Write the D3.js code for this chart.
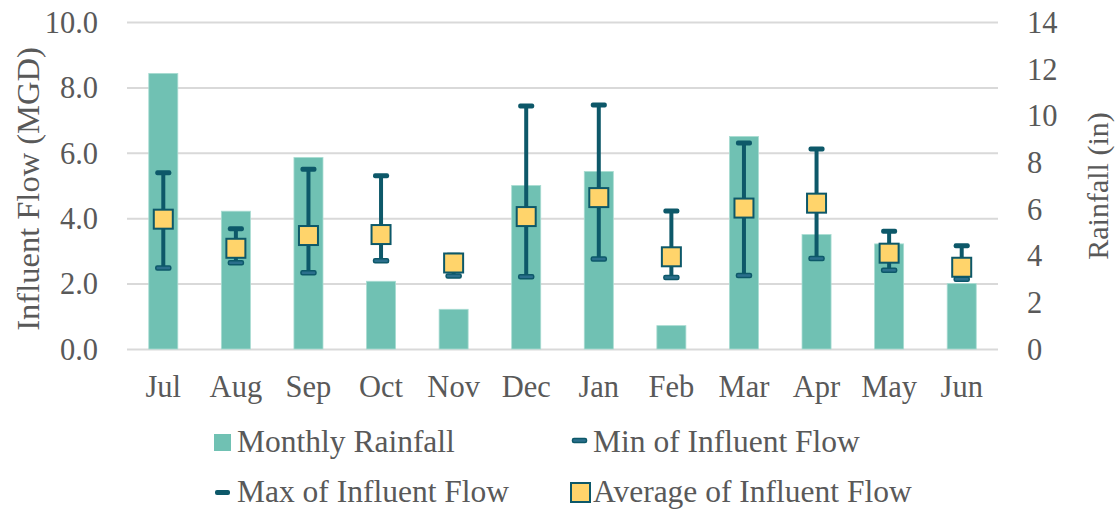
<!DOCTYPE html>
<html>
<head>
<meta charset="utf-8">
<script src="https://cdn.jsdelivr.net/npm/d3@7"></script>
<style>
  body { margin: 0; background: #fff; }
  svg text { fill: #595959; }
</style>
</head>
<body>
<div id="chart"></div>
<script>
const months = ["Jul", "Aug", "Sep", "Oct", "Nov", "Dec", "Jan", "Feb", "Mar", "Apr", "May", "Jun"];
const rainfall = [11.8, 5.9, 8.2, 2.9, 1.7, 7.0, 7.6, 1.0, 9.1, 4.9, 4.5, 2.8];
const flowMax = [5.39, 3.68, 5.5, 5.3, 2.87, 7.43, 7.46, 4.22, 6.3, 6.12, 3.6, 3.16];
const flowAvg = [3.97, 3.08, 3.47, 3.5, 2.63, 4.05, 4.63, 2.82, 4.31, 4.46, 2.93, 2.5];
const flowMin = [2.48, 2.64, 2.33, 2.7, 2.23, 2.21, 2.75, 2.19, 2.25, 2.77, 2.41, 2.13];
const flowTicks = [0, 2, 4, 6, 8, 10];
const rainTicks = [0, 2, 4, 6, 8, 10, 12, 14];

const W = 1117, H = 510;
const plotL = 127, plotR = 998, plotT = 22, plotB = 349;
const FS = 30.5;
const FONT = "'Liberation Serif', 'Times New Roman', Times, 'DejaVu Serif', serif";
const barColor = "#70c1b3", darkColor = "#0d5869", minFill = "#2b6f8c", avgFill = "#ffd46b";

const svg = d3.select("#chart").append("svg")
    .attr("width", W)
    .attr("height", H)
    .attr("font-family", FONT);

const x = d3.scaleBand().domain(months).range([plotL, plotR]).paddingInner(0.6).paddingOuter(0.3);
const yFlow = d3.scaleLinear().domain([0, 10]).range([plotB, plotT]);
const yRain = d3.scaleLinear().domain([0, 14]).range([plotB, plotT]);

// left axis with gridlines
const gLeft = svg.append("g")
    .attr("transform", `translate(${plotL},0)`)
    .call(d3.axisLeft(yFlow).tickValues(flowTicks).tickFormat(d3.format(".1f"))
        .tickSize(-(plotR - plotL)).tickPadding(29));
gLeft.attr("font-family", FONT);
gLeft.select(".domain").remove();
gLeft.selectAll("line").attr("stroke", "#d9d9d9").attr("stroke-width", 2);
gLeft.selectAll("text").attr("font-size", FS).attr("dy", "0.34em");

// right axis
const gRight = svg.append("g")
    .attr("transform", `translate(${plotR},0)`)
    .call(d3.axisRight(yRain).tickValues(rainTicks).tickFormat(d3.format("d"))
        .tickSize(0).tickPadding(29));
gRight.attr("font-family", FONT);
gRight.select(".domain").remove();
gRight.selectAll("text").attr("font-size", FS).attr("dy", "0.34em");

// bars
svg.append("g").selectAll("rect")
    .data(months)
    .enter().append("rect")
    .attr("x", d => x(d))
    .attr("width", x.bandwidth())
    .attr("y", (d, i) => yRain(rainfall[i]))
    .attr("height", (d, i) => plotB - yRain(rainfall[i]))
    .attr("fill", barColor)
    .attr("stroke", "#a9dcd2")
    .attr("stroke-width", 0.8);

// bottom axis (labels only)
const gBottom = svg.append("g")
    .attr("transform", `translate(0,${plotB})`)
    .call(d3.axisBottom(x).tickSize(0));
gBottom.attr("font-family", FONT);
gBottom.select(".domain").remove();
gBottom.selectAll("text").attr("font-size", FS).attr("y", 48).attr("dy", null);

// error bars + markers
const cx = d => x(d) + x.bandwidth() / 2;
const marks = svg.append("g").selectAll("g")
    .data(months)
    .enter().append("g");

marks.append("line")
    .attr("x1", cx).attr("x2", cx)
    .attr("y1", (d, i) => yFlow(flowMin[i]))
    .attr("y2", (d, i) => yFlow(flowMax[i]))
    .attr("stroke", darkColor)
    .attr("stroke-width", 4);

marks.append("rect")
    .attr("x", d => cx(d) - 8).attr("width", 16)
    .attr("y", (d, i) => yFlow(flowMax[i]) - 2.5).attr("height", 5)
    .attr("rx", 2)
    .attr("fill", darkColor);

marks.append("rect")
    .attr("x", d => cx(d) - 7.5).attr("width", 15)
    .attr("y", (d, i) => yFlow(flowMin[i]) - 2).attr("height", 4)
    .attr("rx", 1.5)
    .attr("fill", minFill)
    .attr("stroke", darkColor)
    .attr("stroke-width", 1.5);

marks.append("rect")
    .attr("x", d => cx(d) - 9.5).attr("width", 19)
    .attr("y", (d, i) => yFlow(flowAvg[i]) - 9.5).attr("height", 19)
    .attr("fill", avgFill)
    .attr("stroke", darkColor)
    .attr("stroke-width", 2);

// axis titles
svg.append("text")
    .attr("transform", `translate(39,189) rotate(-90)`)
    .attr("text-anchor", "middle")
    .attr("font-size", 32.5)
    .text("Influent Flow (MGD)");

svg.append("text")
    .attr("transform", `translate(1108,186) rotate(-90)`)
    .attr("text-anchor", "middle")
    .attr("font-size", 30)
    .text("Rainfall (in)");

// legend
const legendItems = [
    { label: "Monthly Rainfall", type: "bar", x: 214, y: 452 },
    { label: "Min of Influent Flow", type: "min", x: 570, y: 452 },
    { label: "Max of Influent Flow", type: "max", x: 214, y: 502 },
    { label: "Average of Influent Flow", type: "avg", x: 570, y: 502 }
];

const lg = svg.append("g").selectAll("g")
    .data(legendItems)
    .enter().append("g")
    .attr("transform", d => `translate(${d.x},${d.y})`);

lg.each(function(d) {
    const g = d3.select(this);
    if (d.type === "bar") {
        g.append("rect").attr("x", 0).attr("y", -18).attr("width", 17).attr("height", 17).attr("fill", barColor);
    } else if (d.type === "min") {
        g.append("rect").attr("x", 2.5).attr("y", -13.5).attr("width", 14).attr("height", 4).attr("rx", 1.5)
            .attr("fill", minFill).attr("stroke", darkColor).attr("stroke-width", 1.5);
    } else if (d.type === "max") {
        g.append("rect").attr("x", 1).attr("y", -12).attr("width", 15).attr("height", 5).attr("rx", 2)
            .attr("fill", darkColor);
    } else {
        g.append("rect").attr("x", 1).attr("y", -19).attr("width", 19).attr("height", 19)
            .attr("fill", avgFill).attr("stroke", darkColor).attr("stroke-width", 2);
    }
});

lg.append("text")
    .attr("x", 23)
    .attr("font-size", 31.5)
    .text(d => d.label);
</script>
</body>
</html>
